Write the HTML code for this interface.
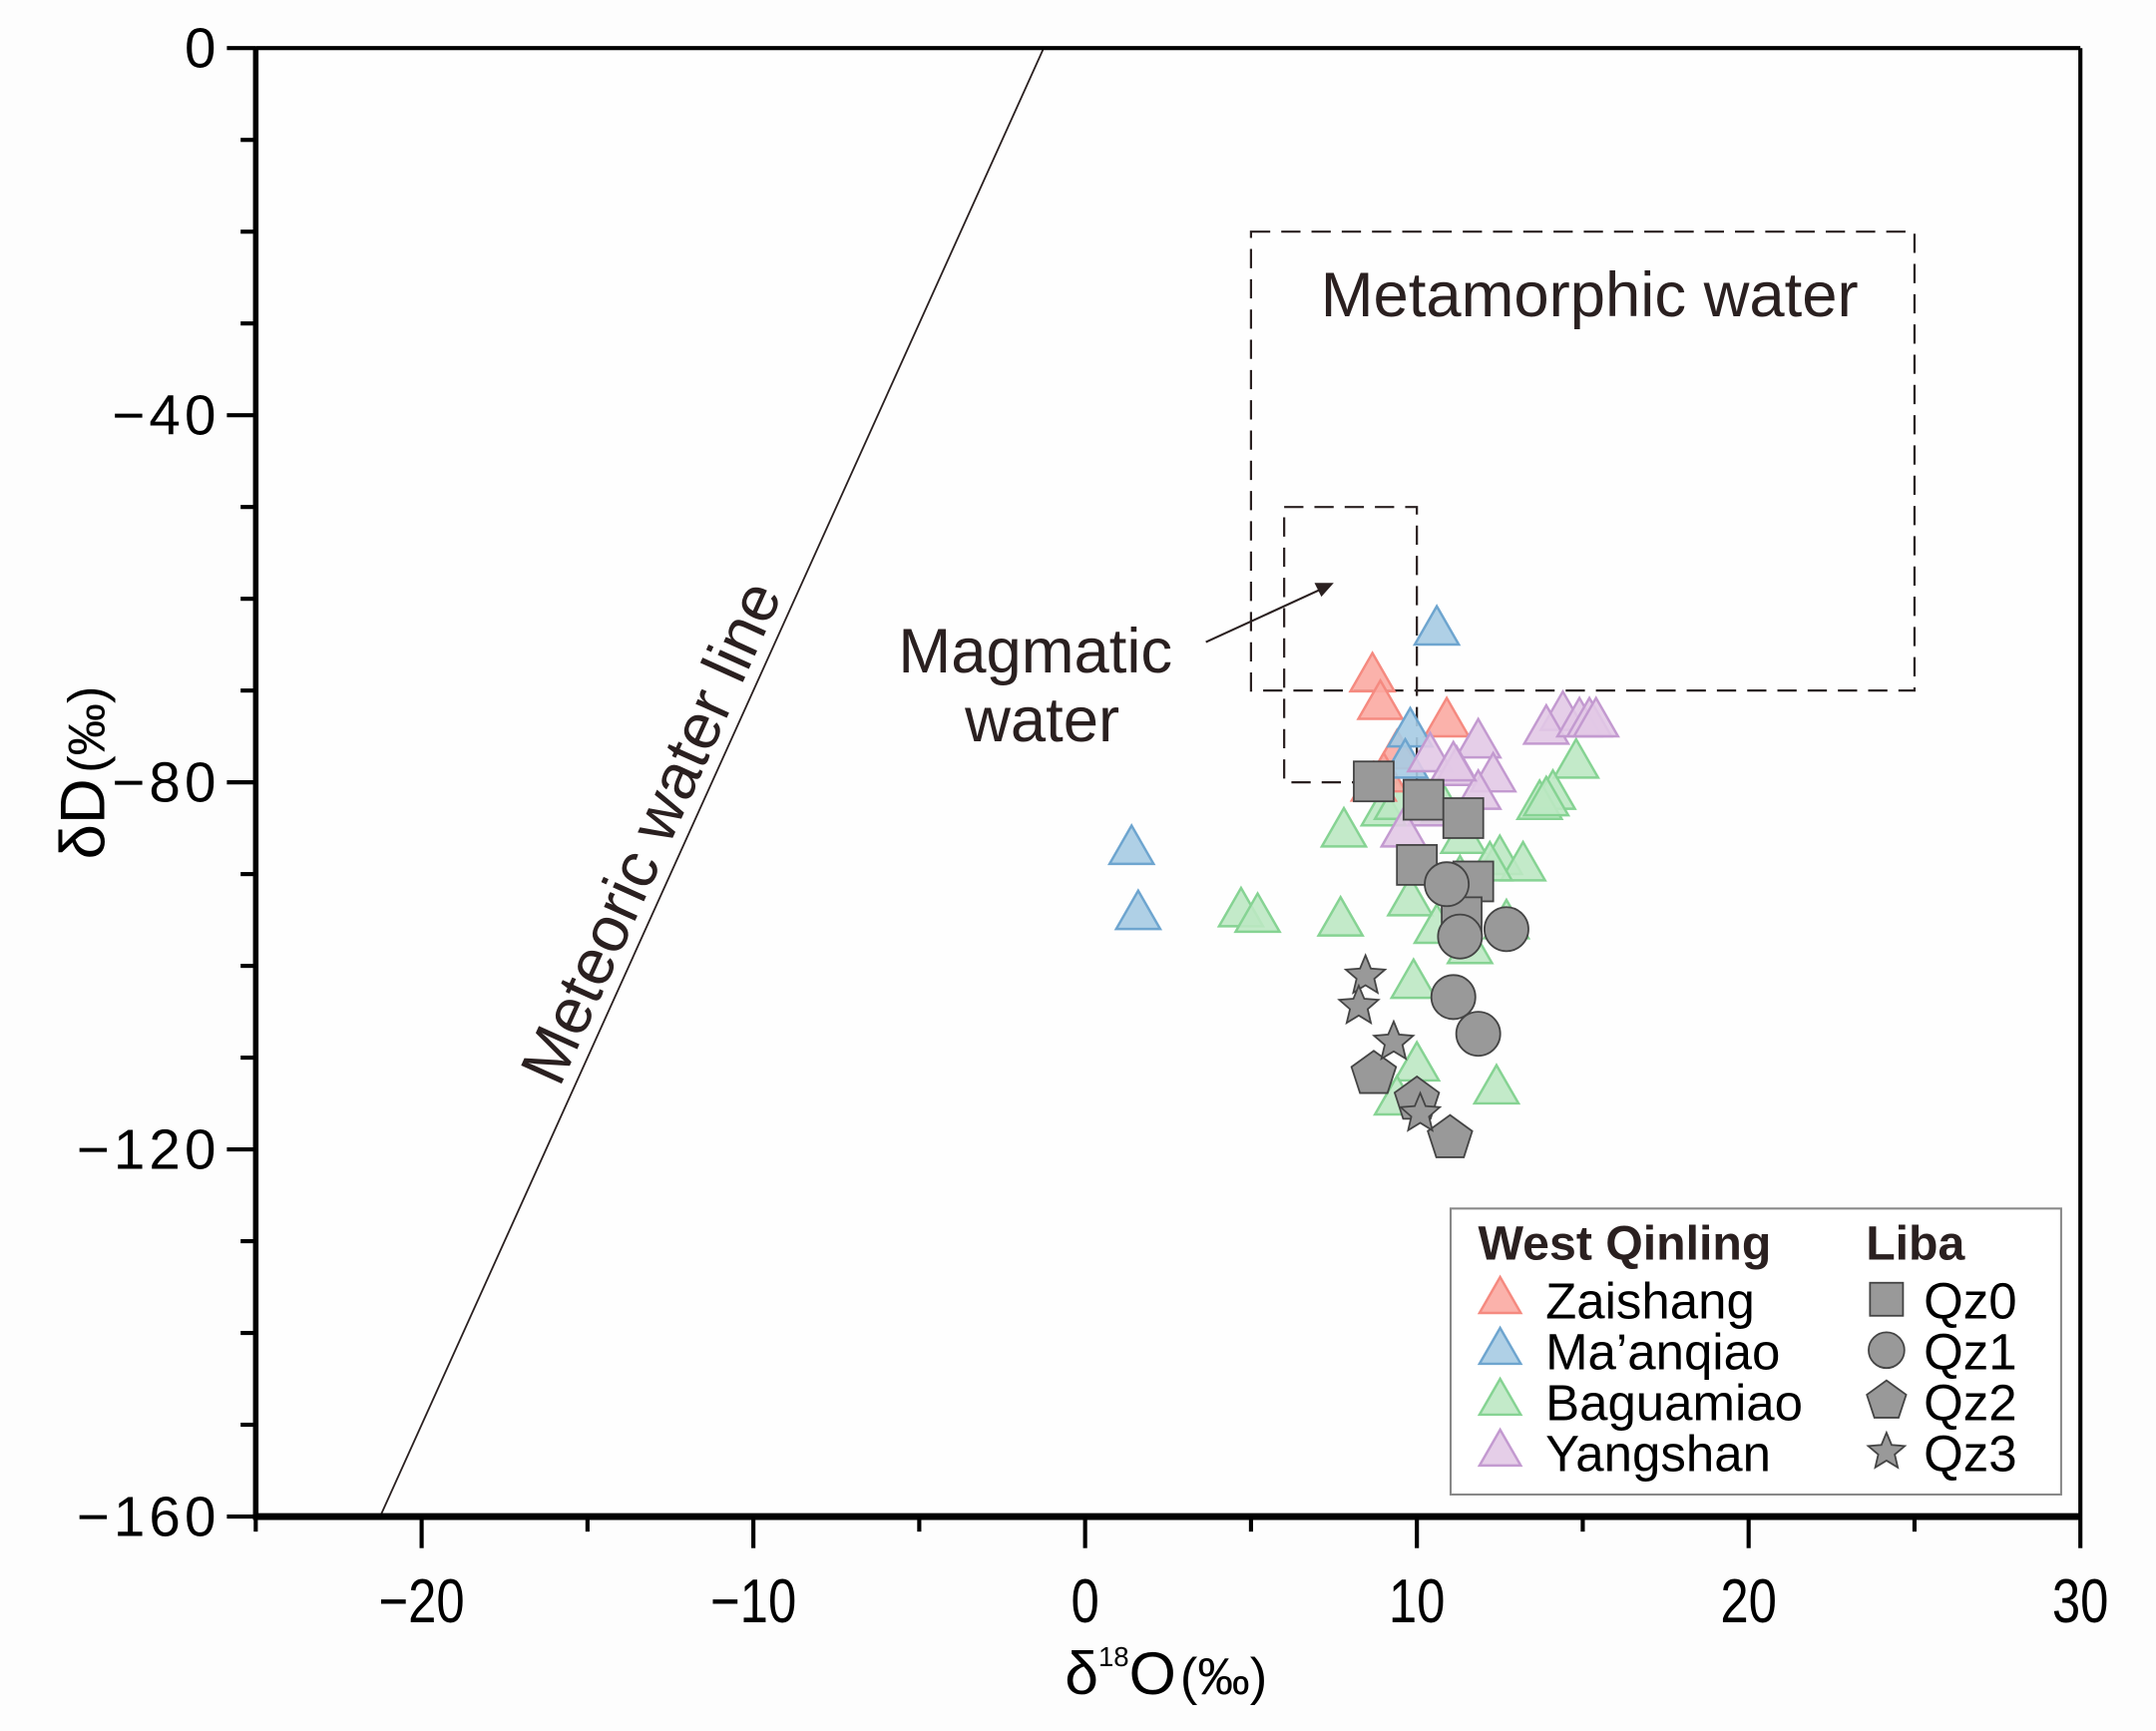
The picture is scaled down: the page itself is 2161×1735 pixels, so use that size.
<!DOCTYPE html>
<html><head><meta charset="utf-8"><style>
html,body{margin:0;padding:0;background:#fdfdfd;}
svg{display:block;}
text{font-family:"Liberation Sans",sans-serif;}
</style></head><body>
<svg id="chart" width="2161" height="1735" viewBox="0 0 1568 1259" preserveAspectRatio="none" xmlns="http://www.w3.org/2000/svg">
<rect x="0" y="0" width="1568" height="1259" fill="#fdfdfd"/>
<g id="layer"></g>
</svg>
<script>
const xTicks=[-20,-10,0,10,20,30];
const yTicks=[0,-40,-80,-120,-160];
const zaishangX=[8.66,8.9,10.9,9.4,9.0,8.7];
const zaishangY=[-68.5,-71.5,-73.4,-76.9,-79.4,-80.4];
const maanqiaoX=[10.6,9.8,9.65,1.4,1.6];
const maanqiaoY=[-63.4,-74.5,-77.9,-87.3,-94.4];
const baguamiaoX=[14.8,14.1,13.7,13.9,7.8,9.0,9.4,11.4,12.5,13.2,12.2,11.3,9.8,4.7,5.2,7.7,10.6,11.6,12.7,9.9,10.0,12.4,9.4,10.8];
const baguamiaoY=[-77.9,-81.3,-82.4,-82.0,-85.4,-83.1,-82.4,-86.1,-88.4,-89.1,-89.1,-90.6,-92.9,-94.1,-94.7,-95.1,-95.9,-98.1,-95.4,-101.9,-110.9,-113.4,-114.6,-82.8];
const yangshanX=[14.4,13.9,14.9,15.2,15.4,10.4,11.85,11.2,12.3,10.4,11.85,9.6,11.1];
const yangshanY=[-72.7,-74.2,-73.4,-73.4,-73.4,-77.2,-75.7,-78.7,-79.4,-83.1,-81.3,-85.4,-78.2];
const qz0X=[8.7,10.2,11.4,10.0,11.7,11.35];
const qz0Y=[-79.9,-81.9,-83.9,-89.0,-90.8,-94.7];
const qz1X=[10.9,11.3,12.7,11.1,11.85];
const qz1Y=[-91.1,-96.8,-96.0,-103.4,-107.4];
const qz2X=[8.7,10.0,11.0];
const qz2Y=[-111.8,-114.6,-118.8];
const qz3X=[8.45,8.25,9.3,10.1];
const qz3Y=[-101.1,-104.4,-108.3,-116.1];

const L=186,R=1513,T=35,B=1103;
const sx=v=>L+(v+25)/55*(R-L);
const sy=v=>T+(0-v)/160*(B-T);
const NS="http://www.w3.org/2000/svg";
const g=document.getElementById('layer');
function mk(tag,at,parent){const e=document.createElementNS(NS,tag);for(const k in at)e.setAttribute(k,at[k]);(parent||g).appendChild(e);return e;}

let e=mk('rect',{x:L,y:T,width:R-L,height:B-T,fill:'#fefefe'});



e=mk('line',{x1:sx((0-10)/8),y1:sy(0),x2:sx((-160-10)/8),y2:sy(-160),stroke:'#2a2020','stroke-width':1.3});


e=mk('text',{x:0,y:0,'font-size':47,fill:'#2a2020','text-anchor':'middle',transform:'translate(488,612) rotate(-65.7)'});
e.textContent='Meteoric water line';



e=mk('rect',{x:sx(5),y:sy(-20),width:sx(25)-sx(5),height:sy(-70)-sy(-20),fill:'none',stroke:'#2a2020','stroke-width':1.6,'stroke-dasharray':'14 8'});


e=mk('rect',{x:sx(6),y:sy(-50),width:sx(10)-sx(6),height:sy(-80)-sy(-50),fill:'none',stroke:'#2a2020','stroke-width':1.6,'stroke-dasharray':'14 8'});


e=mk('text',{x:1156,y:230,'font-size':46,fill:'#2a2020','text-anchor':'middle'});
e.textContent='Metamorphic water';


e=mk('text',{x:753,y:489,'font-size':46,fill:'#2a2020','text-anchor':'middle'});
e.textContent='Magmatic';


e=mk('text',{x:758,y:539,'font-size':46,fill:'#2a2020','text-anchor':'middle'});
e.textContent='water';


e=mk('line',{x1:877,y1:467,x2:962,y2:428,stroke:'#2a2020','stroke-width':1.5});


e=mk('path',{d:'M970,424 L956,424 L961,434 Z',fill:'#2a2020'});



function tri(cx,cy,fill,stroke,s,parent){const h=s*0.87;return mk('path',{d:`M${cx},${cy-h*0.62} L${cx+s/2},${cy+h*0.38} L${cx-s/2},${cy+h*0.38} Z`,fill:fill,stroke:stroke,'stroke-width':1.8,'fill-opacity':0.9},parent);}
function sq(cx,cy,s,parent){return mk('rect',{x:cx-s/2,y:cy-s/2,width:s,height:s,fill:'#999',stroke:'#444','stroke-width':1.3},parent);}
function circ(cx,cy,r,parent){return mk('circle',{cx:cx,cy:cy,r:r,fill:'#999',stroke:'#444','stroke-width':1.3},parent);}
function poly(cx,cy,r,n,inner,parent){let p=[];const k=inner?n*2:n;for(let i=0;i<k;i++){const a=-Math.PI/2+i*2*Math.PI/k;const rr=inner&&i%2?r*inner:r;p.push((cx+rr*Math.cos(a)).toFixed(1)+','+(cy+rr*Math.sin(a)).toFixed(1));}return mk('polygon',{points:p.join(' '),fill:'#999',stroke:'#444','stroke-width':1.3},parent);}

const triSeries=[
 ['zaishang',zaishangX,zaishangY,'#fbaaa2','#f58a80'],
 ['maanqiao',maanqiaoX,maanqiaoY,'#a6cbe3','#6ea5cf'],
 ['baguamiao',baguamiaoX,baguamiaoY,'#bde8c3','#86d393'],
 ['yangshan',yangshanX,yangshanY,'#e2c9e6','#c39ad0']
];
const order=[2,0,1,3];
order.forEach(i=>{const [nm,xs,ys,f,s]=triSeries[i];
 const grp=mk('g',{});
 
 
 xs.forEach((x,j)=>{const m=tri(sx(x),sy(ys[j]),f,s,32,grp);
  
  });
});
let grp=mk('g',{});


qz0X.forEach((x,j)=>{const m=sq(sx(x),sy(qz0Y[j]),29,grp);
 
 });
grp=mk('g',{});


qz1X.forEach((x,j)=>{const m=circ(sx(x),sy(qz1Y[j]),16,grp);
 
 });
grp=mk('g',{});


qz2X.forEach((x,j)=>{const m=poly(sx(x),sy(qz2Y[j]),17,5,0,grp);
 
 });
grp=mk('g',{});


qz3X.forEach((x,j)=>{const m=poly(sx(x),sy(qz3Y[j]),15,5,0.45,grp);
 
 });

e=mk('line',{x1:L,y1:T,x2:R,y2:T,stroke:'#000','stroke-width':3});


e=mk('line',{x1:R,y1:T,x2:R,y2:B,stroke:'#000','stroke-width':3});


e=mk('line',{x1:L,y1:T-1,x2:L,y2:B+2,stroke:'#000','stroke-width':4});


e=mk('line',{x1:L-2,y1:B,x2:R+1,y2:B,stroke:'#000','stroke-width':5});



for(let v=-25;v<=30;v+=5){const major=(v%10===0);
 e=mk('line',{x1:sx(v),y1:B,x2:sx(v),y2:B+(major?23:11),stroke:'#000','stroke-width':3});
 
 }
xTicks.forEach(v=>{e=mk('text',{x:sx(v),y:1180,'font-size':45,'text-anchor':'middle',fill:'#000'});
 e.setAttribute('transform',`translate(${sx(v)},0) scale(0.82,1) translate(${-sx(v)},0)`);
 e.textContent=v<0?'−'+(-v):String(v);
 
 });
for(let v=0;v>=-160;v-=10){const major=(v%40===0);
 e=mk('line',{x1:L,y1:sy(v),x2:L-(major?21:11),y2:sy(v),stroke:'#000','stroke-width':3});
 
 }
yTicks.forEach(v=>{e=mk('text',{x:160,y:sy(v)+14,'font-size':41,'text-anchor':'end',fill:'#000','letter-spacing':3});
 e.textContent=v<0?'−'+(-v):String(v);
 
 });

e=mk('text',{x:0,y:0,'font-size':46,'text-anchor':'middle',fill:'#000',transform:'translate(76,562) rotate(-90)'});
e.innerHTML='δD<tspan font-size="38" dx="4">(‰)</tspan>';


e=mk('text',{x:848,y:1232,'font-size':44,'text-anchor':'middle',fill:'#000'});
e.innerHTML='δ<tspan font-size="20" dy="-20">18</tspan><tspan dy="20">O</tspan><tspan font-size="38" dx="3">(‰)</tspan>';



const lg=mk('g',{});


e=mk('rect',{x:1055,y:879,width:444,height:208,fill:'#fff',stroke:'#888','stroke-width':1.5},lg);


e=mk('text',{x:1075,y:916,'font-size':35,'font-weight':'bold',fill:'#2a2020'},lg);
e.textContent='West Qinling';


e=mk('text',{x:1357,y:916,'font-size':35,'font-weight':'bold',fill:'#2a2020'},lg);
e.textContent='Liba';


const legNames=['Zaishang','Ma’anqiao','Baguamiao','Yangshan'];
const rowY=[945,982,1019,1056];
triSeries.forEach(([nm,xs,ys,f,s],i)=>{
 const m=tri(1091,rowY[i],f,s,30,lg);
 
 
 const t=mk('text',{x:1124,y:rowY[i]+14,'font-size':37,fill:'#000'},lg);
 t.textContent=legNames[i];
 
 });
let m=sq(1372,rowY[0],24,lg);


m=circ(1372,rowY[1],13,lg);


m=poly(1372,rowY[2],15,5,0,lg);


m=poly(1372,rowY[3],14,5,0.45,lg);


['Qz0','Qz1','Qz2','Qz3'].forEach((s,i)=>{const t=mk('text',{x:1399,y:rowY[i]+14,'font-size':37,fill:'#000'},lg);
 t.textContent=s;
 
 });
</script>
</body></html>
